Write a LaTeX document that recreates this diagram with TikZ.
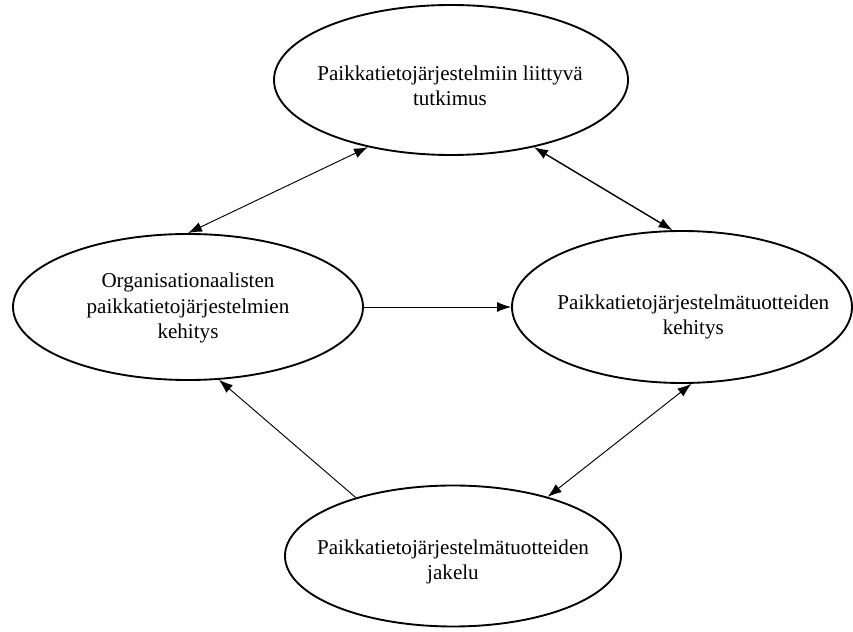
\documentclass[tikz,border=0pt]{standalone}
\usepackage{fontspec}
\setmainfont{Liberation Serif}
\usepackage{tikz}
\usetikzlibrary{shapes.geometric,arrows.meta,positioning}

\begin{document}
\begin{tikzpicture}[
  ell/.style={ellipse,draw=black,line width=1.6pt,inner sep=0pt},
  txt/.style={align=center,font=\fontsize{18}{21.6}\selectfont},
  fl/.style={line width=0.8pt,-{Latex[length=4.2mm,width=3mm]}},
  dfl/.style={line width=0.8pt,{Latex[length=4.2mm,width=3mm]}-{Latex[length=4.2mm,width=3mm]}}]

  \useasboundingbox (0,0) rectangle (25.59,18.96);

  \node[ell,minimum width=10.62cm,minimum height=4.5cm]  (tutk)   at (13.53,16.56) {};
  \node[ell,minimum width=10.5cm,minimum height=4.38cm]  (org)    at (5.64,9.75)   {};
  \node[ell,minimum width=10.2cm,minimum height=4.56cm]  (prod)   at (20.46,9.75)  {};
  \node[ell,minimum width=10.08cm,minimum height=4.23cm] (jakelu) at (13.59,2.28)  {};

  \node[txt] (tutk-t)   at (13.5,16.38) {Paikkatietojärjestelmiin liittyvä\\tutkimus};
  \node[txt] (org-t)    at (5.64,9.72)  {Organisationaalisten\\paikkatietojärjestelmien\\kehitys};
  \node[txt] (prod-t)   at (20.8,9.45)  {Paikkatietojärjestelmätuotteiden\\kehitys};
  \node[txt] (jakelu-t) at (13.59,2.1)  {Paikkatietojärjestelmätuotteiden\\jakelu};

  \draw[dfl] (org.north) -- (tutk.219);
  \draw[dfl,line width=1.2pt] (tutk.321) -- (prod.97);
  \draw[fl] (org.east) -- (prod.west);
  \draw[fl] (jakelu.149) -- (org.293);
  \draw[dfl] (jakelu.32) -- (prod.277);
\end{tikzpicture}
\end{document}
